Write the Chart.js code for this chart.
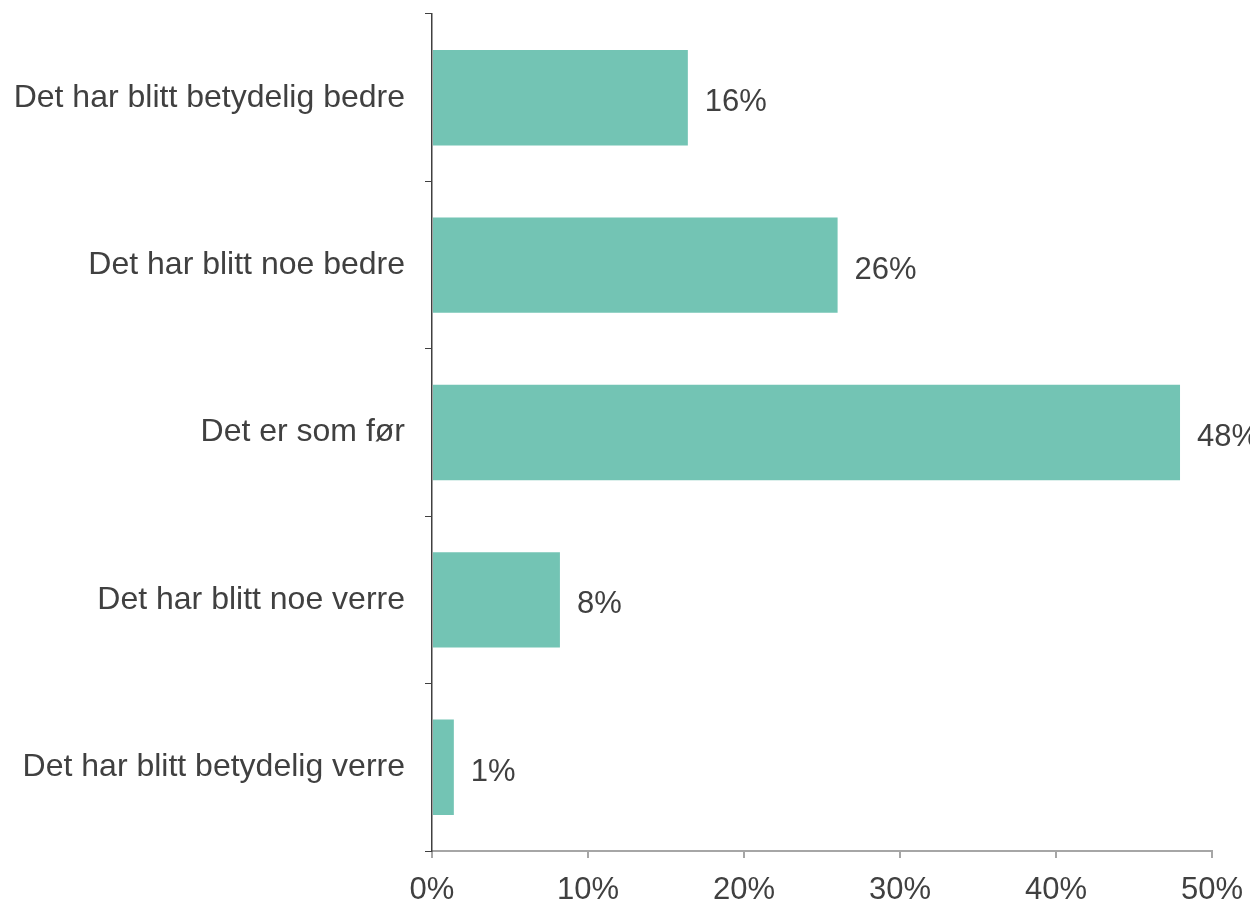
<!DOCTYPE html>
<html>
<head>
<meta charset="utf-8">
<script src="https://cdn.jsdelivr.net/npm/chart.js@4"></script>
<style>
  html, body { margin: 0; padding: 0; background: #fff; }
  #wrap { width: 1250px; height: 902px; }
</style>
</head>
<body>
<div id="wrap"><canvas id="chart" width="1250" height="902"></canvas></div>
<script>
const categories = [
  'Det har blitt betydelig bedre',
  'Det har blitt noe bedre',
  'Det er som før',
  'Det har blitt noe verre',
  'Det har blitt betydelig verre',
];
const values = [16.4, 26.0, 47.95, 8.2, 1.4];
const valueLabels = ['16%', '26%', '48%', '8%', '1%'];
const xTicks = [0, 10, 20, 30, 40, 50];

const FONT = "'Liberation Sans', Arial, sans-serif";
const TEXT = '#404040';

const barLabels = {
  id: 'barLabels',
  afterDatasetsDraw(c) {
    const ctx = c.ctx;
    const meta = c.getDatasetMeta(0);
    ctx.save();
    ctx.font = `31px ${FONT}`;
    ctx.fillStyle = TEXT;
    ctx.textAlign = 'left';
    ctx.textBaseline = 'middle';
    meta.data.forEach((bar, i) => {
      ctx.fillText(valueLabels[i], bar.x + 17, bar.y + 5);
    });
    ctx.restore();
  },
};

new Chart(document.getElementById('chart'), {
  type: 'bar',
  data: {
    labels: categories,
    datasets: [{
      data: values,
      backgroundColor: '#73c4b4',
      categoryPercentage: 0.57,
      barPercentage: 1,
    }],
  },
  options: {
    indexAxis: 'y',
    responsive: false,
    animation: false,
    layout: { padding: { top: 14, right: 38, left: 0, bottom: 0 } },
    plugins: { legend: { display: false }, tooltip: { enabled: false } },
    scales: {
      x: {
        min: 0,
        max: 50,
        afterFit: s => { s.height = 51; s.paddingLeft = 0; s.paddingRight = 0; },
        afterBuildTicks: s => { s.ticks = xTicks.map(v => ({ value: v })); },
        border: { display: true, color: '#a6a6a6', width: 2 },
        grid: {
          drawOnChartArea: false,
          drawTicks: true,
          tickLength: 7,
          color: '#a6a6a6',
          lineWidth: 2,
        },
        ticks: {
          padding: 14,
          color: TEXT,
          font: { family: FONT, size: 31 },
          callback: v => v + '%',
        },
      },
      y: {
        afterFit: s => { s.width = 432; s.paddingTop = 0; s.paddingBottom = 0; },
        border: { display: true, color: '#404040', width: 1.5 },
        grid: {
          offset: true,
          drawOnChartArea: false,
          drawTicks: true,
          tickLength: 7,
          color: '#404040',
          lineWidth: 1,
        },
        ticks: {
          padding: 20,
          color: TEXT,
          font: { family: FONT, size: 32 },
        },
      },
    },
  },
  plugins: [barLabels],
});
</script>
</body>
</html>
